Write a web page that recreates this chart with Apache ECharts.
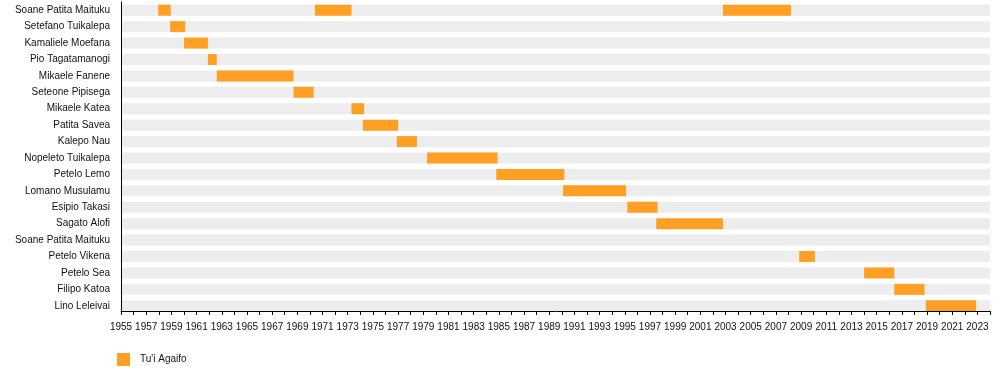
<!DOCTYPE html>
<html>
<head>
<meta charset="utf-8">
<script src="https://cdn.jsdelivr.net/npm/echarts@6/dist/echarts.min.js"></script>
<style>html,body{margin:0;padding:0;background:#fff}#c{width:1000px;height:371px}</style>
</head>
<body>
<div id="c"></div>
<script>
const rowNames = ['Soane Patita Maituku','Setefano Tuikalepa','Kamaliele Moefana','Pio Tagatamanogi','Mikaele Fanene','Seteone Pipisega','Mikaele Katea','Patita Savea','Kalepo Nau','Nopeleto Tuikalepa','Petelo Lemo','Lomano Musulamu','Esipio Takasi','Sagato Alofi','Soane Patita Maituku','Petelo Vikena','Petelo Sea','Filipo Katoa','Lino Leleivai'];
const termRow   = [0, 1, 2, 3, 4, 5, 0, 6, 7, 8, 9, 10, 11, 12, 13, 0, 15, 16, 17, 18];
const termStart = [1957.95, 1958.9, 1960.0, 1961.9, 1962.6, 1968.7, 1970.4, 1973.3, 1974.2, 1976.9, 1979.3, 1984.8, 1990.1, 1995.2, 1997.5, 2002.8, 2008.85, 2014.0, 2016.4, 2018.9];
const termEnd   = [1958.95, 1960.1, 1961.9, 1962.6, 1968.7, 1970.3, 1973.3, 1974.3, 1977.0, 1978.5, 1984.9, 1990.2, 1995.1, 1997.6, 2002.8, 2008.2, 2010.1, 2016.4, 2018.8, 2022.9];
const axisMin = 1955, axisMax = 2024;
const seriesName = "Tu'i Agaifo";

const FONT = '"Liberation Sans", Arial, sans-serif';
const chart = echarts.init(document.getElementById('c'), null, {renderer: 'canvas'});

const bandData = rowNames.map((n, i) => [i, axisMin, axisMax]);
const termData = termRow.map((r, i) => [r, termStart[i], termEnd[i]]);

function rectItem(color) {
  return function (params, api) {
    const r = api.value(0);
    const p0 = api.coord([api.value(1), r]);
    const p1 = api.coord([api.value(2), r]);
    const h = 11;
    return {
      type: 'rect',
      shape: {x: p0[0], y: p0[1] - h / 2, width: p1[0] - p0[0], height: h},
      style: {fill: color}
    };
  };
}

chart.setOption({
  animation: false,
  textStyle: {fontFamily: FONT},
  grid: {left: 121, right: 10, top: 2, bottom: 57, containLabel: false},
  legend: {
    data: [seriesName], left: 112, top: 348, icon: 'rect', itemWidth: 13, itemHeight: 13, itemGap: 10,
    textStyle: {fontFamily: FONT, fontSize: 10, color: '#111', padding: [0, 0, 0, 5]}
  },
  xAxis: {
    type: 'value', min: axisMin, max: axisMax, interval: 1, offset: -3, z: 10,
    axisLine: {show: true, lineStyle: {color: '#000', width: 1}},
    axisTick: {show: true, length: 4, lineStyle: {color: '#000'}},
    splitLine: {show: false},
    axisLabel: {
      margin: 11, fontSize: 10, color: '#111', fontFamily: FONT, showMaxLabel: true,
      formatter: v => ((v - axisMin) % 2 === 0 && v < axisMax) ? String(v) : ''
    }
  },
  yAxis: {
    type: 'category', inverse: true, data: rowNames, z: 10,
    axisLine: {show: true, onZero: false, lineStyle: {color: '#000', width: 1}},
    axisTick: {show: false},
    splitLine: {show: false},
    axisLabel: {margin: 11, fontSize: 10, color: '#111', fontFamily: FONT, interval: 0}
  },
  series: [
    {
      type: 'custom', name: 'band', silent: true, z: 1,
      renderItem: rectItem('#ededed'),
      encode: {x: [1, 2], y: 0},
      data: bandData
    },
    {
      type: 'custom', name: seriesName, z: 2, color: '#ffa024',
      itemStyle: {color: '#ffa024'},
      renderItem: rectItem('#ffa024'),
      encode: {x: [1, 2], y: 0},
      data: termData
    }
  ]
});
</script>
</body>
</html>
